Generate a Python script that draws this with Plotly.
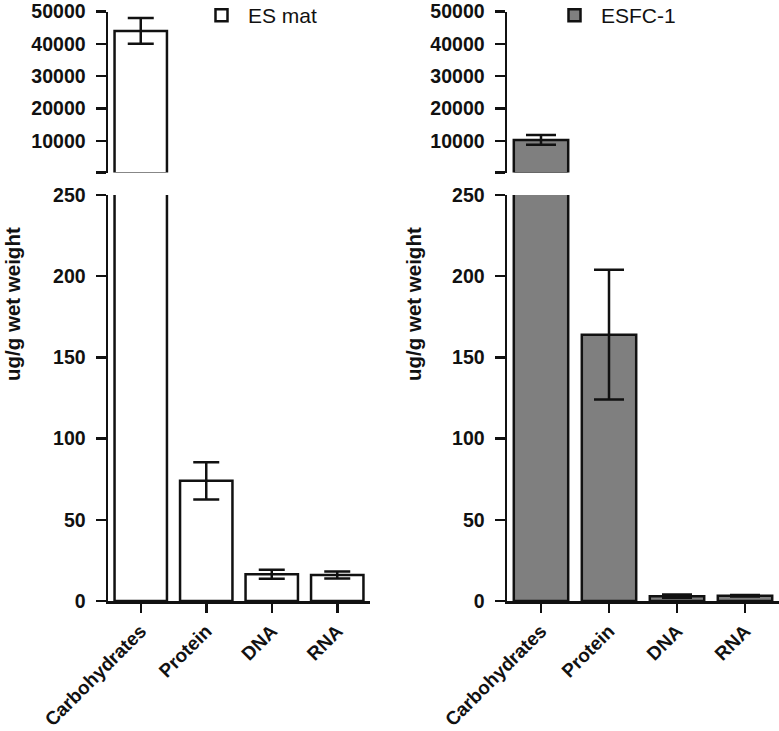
import plotly.graph_objects as go

categories = ["Carbohydrates", "Protein", "DNA", "RNA"]
es_mat_values = [44000, 74, 16.5, 16]
es_mat_errors = [4000, 11.5, 2.8, 2.2]
esfc_values = [10300, 164, 3, 3.2]
esfc_errors = [1500, 40, 1.0, 0.5]

low_ticks = [0, 50, 100, 150, 200, 250]
high_ticks = [250, 10000, 20000, 30000, 40000, 50000]
high_labels = ["", "10000", "20000", "30000", "40000", "50000"]
BREAK = 250

W, H = 779, 731
FONT = "Liberation Sans"
BLACK = "#111111"
LW = 2.5

def px_x(p):
    return p / W

def px_y(p):
    return 1 - p / H

fig = go.Figure()

panels = [
    ("ES mat", es_mat_values, es_mat_errors, "#ffffff", "x", "y", "y3", "legend", 13),
    ("ESFC-1", esfc_values, esfc_errors, "#7f7f7f", "x2", "y2", "y4", "legend2", 15),
]

for name, vals, errs, color, xa, ylow, yhigh, leg, capw in panels:
    # lower segment: all bars; error bars only where they fall in 0..BREAK
    low_errs = [e if v <= BREAK else None for v, e in zip(vals, errs)]
    fig.add_trace(go.Bar(
        x=categories, y=vals, name=name, xaxis=xa, yaxis=ylow, width=0.8,
        marker=dict(color=color, line=dict(color=BLACK, width=LW)),
        error_y=dict(type="data", array=low_errs, visible=True,
                     color=BLACK, thickness=LW, width=capw),
        showlegend=True, legend=leg,
    ))
    # upper segment: only the values above the axis break
    hi = [(c, v, e) for c, v, e in zip(categories, vals, errs) if v > BREAK]
    fig.add_trace(go.Bar(
        x=[h[0] for h in hi], y=[h[1] for h in hi], name=name,
        xaxis=xa, yaxis=yhigh, width=0.8,
        marker=dict(color=color, line=dict(color=BLACK, width=LW)),
        error_y=dict(type="data", array=[h[2] for h in hi], visible=True,
                     color=BLACK, thickness=LW, width=capw),
        showlegend=False, legend=leg,
    ))

tickfont = dict(family=FONT, size=19.5, color=BLACK, weight="bold")
catfont = dict(family=FONT, size=19, color=BLACK, weight="bold")

def xaxis(domain, anchor):
    return dict(domain=domain, anchor=anchor, range=[-0.5, 3.5],
                type="category", categoryarray=categories, categoryorder="array",
                showline=True, linewidth=LW, linecolor=BLACK,
                ticks="outside", ticklen=9, tickwidth=LW, tickcolor=BLACK,
                tickangle=-45, tickfont=catfont, showgrid=False, zeroline=False,
                automargin=False, fixedrange=True, ticklabeloverflow="allow")

def ylow_axis(anchor):
    return dict(domain=[px_y(601), px_y(195)], anchor=anchor, range=[0, 250],
                tickvals=low_ticks, showline=True, linewidth=LW, linecolor=BLACK,
                ticks="outside", ticklen=10, tickwidth=LW, tickcolor=BLACK,
                tickfont=tickfont, showgrid=False, zeroline=False,
                automargin=False, ticklabelstandoff=6, ticklabeloverflow="allow")

def yhigh_axis(anchor):
    return dict(domain=[px_y(172.5), px_y(11.5)], anchor=anchor, range=[BREAK, 50000],
                tickvals=high_ticks, ticktext=high_labels,
                showline=True, linewidth=LW, linecolor=BLACK,
                ticks="outside", ticklen=10, tickwidth=LW, tickcolor=BLACK,
                tickfont=tickfont, showgrid=False, zeroline=False,
                automargin=False, ticklabelstandoff=6, ticklabeloverflow="allow")

legend_common = dict(xanchor="left", yanchor="top", bgcolor="rgba(0,0,0,0)",
                     itemwidth=43,
                     font=dict(family=FONT, size=21, color=BLACK))

fig.update_layout(
    template="none",
    width=W, height=H,
    margin=dict(l=0, r=0, t=0, b=0, autoexpand=False),
    paper_bgcolor="white", plot_bgcolor="white",
    barmode="group",
    xaxis=xaxis([px_x(108), px_x(370)], "y"),
    xaxis2=xaxis([px_x(507), 1.0], "y2"),
    yaxis=ylow_axis("x"),
    yaxis2=ylow_axis("x2"),
    yaxis3=yhigh_axis("x"),
    yaxis4=yhigh_axis("x2"),
    legend=dict(x=px_x(195), y=px_y(-5), **legend_common),
    legend2=dict(x=px_x(548), y=px_y(-5), **legend_common),
    showlegend=True,
)

for xc in (12, 413):
    fig.add_annotation(
        text="ug/g wet weight", xref="paper", yref="paper",
        x=px_x(xc), y=px_y(304), showarrow=False, textangle=-90,
        font=dict(family=FONT, size=20.5, color=BLACK, weight="bold"),
        xanchor="center", yanchor="middle",
    )

fig.write_html("out.html",
               config={"displayModeBar": False, "staticPlot": True},
               post_script="document.body.style.margin='0';document.body.style.padding='0';")
